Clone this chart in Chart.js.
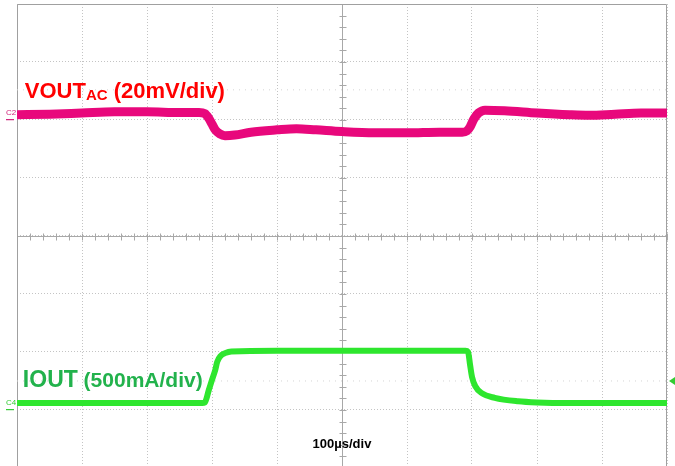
<!DOCTYPE html>
<html>
<head>
<meta charset="utf-8">
<script src="https://cdn.jsdelivr.net/npm/chart.js@4/dist/chart.umd.min.js"></script>
<style>
  html, body { margin: 0; padding: 0; background: #fff; }
  #wrap { position: relative; width: 675px; height: 466px; }
</style>
</head>
<body>
<div id="wrap"><canvas id="c" width="675" height="466"></canvas></div>
<script>
// Time axis: microseconds (100 µs/div, 10 divisions)
const xTicks = [0, 100, 200, 300, 400, 500, 600, 700, 800, 900, 1000];
// Vertical axis: screen divisions (centre = 0)
const yTicks = [-3, -2, -1, 0, 1, 2, 3, 4];

// VOUT (AC, 20 mV/div) – trace position in divisions
const voutTime = [0, 50, 100, 150, 200, 250, 280, 289, 295, 300, 305, 312, 320, 335, 360, 400, 430, 460, 500, 550, 600, 650, 685, 692, 697, 703, 710, 720, 750, 800, 850, 880, 920, 960, 1000];
const voutDiv  = [2.09, 2.10, 2.12, 2.14, 2.14, 2.13, 2.13, 2.11, 2.03, 1.93, 1.83, 1.76, 1.73, 1.74, 1.79, 1.83, 1.85, 1.83, 1.80, 1.78, 1.78, 1.79, 1.79, 1.81, 1.88, 2.02, 2.12, 2.17, 2.16, 2.12, 2.09, 2.08, 2.10, 2.12, 2.12];

// IOUT (500 mA/div) – trace position in divisions
const ioutTime = [0, 100, 200, 285, 289, 295, 300, 305, 308, 313, 320, 330, 400, 500, 600, 690, 694, 697, 700, 705, 715, 735, 771, 800, 850, 900, 1000];
const ioutDiv  = [-2.88, -2.88, -2.88, -2.88, -2.87, -2.66, -2.48, -2.31, -2.17, -2.07, -2.02, -1.99, -1.98, -1.98, -1.98, -1.98, -2.00, -2.22, -2.43, -2.59, -2.71, -2.79, -2.85, -2.87, -2.88, -2.88, -2.88];

// faint dotted reference rows
const refLevels = [2.52, -2.5];

const toPts = (xs, ys) => xs.map((x, i) => ({ x: x, y: ys[i] }));

const FONT = '"Liberation Sans", Arial, "DejaVu Sans", sans-serif';

const scopePlugin = {
  id: 'scope',
  beforeDatasetsDraw(chart) {
    const { ctx, chartArea: a, scales: { x, y } } = chart;
    ctx.save();
    // centre crosshair
    ctx.strokeStyle = '#a8a8a8';
    ctx.lineWidth = 1;
    const cx = Math.round(x.getPixelForValue(500)) + 0.5;
    const cy = Math.round(y.getPixelForValue(0)) + 0.5;
    ctx.beginPath();
    ctx.moveTo(a.left, cy); ctx.lineTo(a.right, cy);
    ctx.moveTo(cx, a.top); ctx.lineTo(cx, a.bottom);
    ctx.stroke();
    // minor ticks every 0.2 div
    ctx.beginPath();
    for (let t = 0; t <= 1000; t += 20) {
      const px = Math.round(x.getPixelForValue(t)) + 0.5;
      ctx.moveTo(px, cy - 3); ctx.lineTo(px, cy + 4);
    }
    for (let v = -4; v <= 4.001; v += 0.2) {
      const py = Math.round(y.getPixelForValue(v)) + 0.5;
      ctx.moveTo(cx - 3, py); ctx.lineTo(cx + 4, py);
    }
    ctx.stroke();
    // frame
    ctx.strokeStyle = '#a0a0a0';
    ctx.beginPath();
    ctx.moveTo(a.left + 0.5, a.bottom); ctx.lineTo(a.left + 0.5, a.top + 0.5);
    ctx.lineTo(a.right - 0.5, a.top + 0.5); ctx.lineTo(a.right - 0.5, a.bottom);
    ctx.stroke();
    ctx.restore();
  },
  afterDatasetsDraw(chart) {
    const { ctx, chartArea: a, scales: { x, y } } = chart;
    ctx.save();
    ctx.textBaseline = 'alphabetic';
    ctx.textAlign = 'left';
    // VOUT label
    let lx = x.getPixelForValue(12), ly = y.getPixelForValue(2.38);
    ctx.fillStyle = '#ff0000';
    ctx.font = 'bold 22px ' + FONT;
    ctx.fillText('VOUT', lx, ly);
    lx += ctx.measureText('VOUT').width;
    ctx.font = 'bold 15px ' + FONT;
    ctx.fillText('AC', lx, ly + 2);
    lx += ctx.measureText('AC').width;
    ctx.font = 'bold 22px ' + FONT;
    ctx.fillText(' (20mV/div)', lx, ly);
    // IOUT label
    ctx.fillStyle = '#22b24c';
    ctx.font = 'bold 23px ' + FONT;
    let ix = x.getPixelForValue(9), iy = y.getPixelForValue(-2.6);
    ctx.fillText('IOUT', ix, iy);
    ix += ctx.measureText('IOUT').width;
    ctx.font = 'bold 21px ' + FONT;
    ctx.fillText(' (500mA/div)', ix, iy);
    // time base
    ctx.fillStyle = '#000';
    ctx.font = 'bold 13px ' + FONT;
    ctx.textAlign = 'center';
    ctx.fillText('100µs/div', x.getPixelForValue(500), y.getPixelForValue(-3.66));
    // channel markers
    ctx.textAlign = 'left';
    ctx.font = '8px ' + FONT;
    ctx.fillStyle = '#d0207a';
    let my = y.getPixelForValue(2.12);
    ctx.fillText('C2', a.left - 11, my + 2);
    ctx.fillRect(a.left - 11, my + 6, 8, 1.2);
    ctx.fillStyle = '#33cc33';
    my = y.getPixelForValue(-2.88);
    ctx.fillText('C4', a.left - 11, my + 2);
    ctx.fillRect(a.left - 11, my + 6, 8, 1.2);
    // trigger arrow on the right
    const ty = y.getPixelForValue(-2.5);
    ctx.fillStyle = '#33cc33';
    ctx.beginPath();
    ctx.moveTo(a.right + 2, ty);
    ctx.lineTo(a.right + 8, ty - 4);
    ctx.lineTo(a.right + 8, ty + 4);
    ctx.closePath();
    ctx.fill();
    ctx.restore();
  }
};

new Chart(document.getElementById('c'), {
  type: 'line',
  data: {
    datasets: [
      ...refLevels.map(v => ({
        data: [{ x: 0, y: v }, { x: 1000, y: v }],
        borderColor: '#d4d4d4', borderWidth: 1, borderDash: [1, 5],
        pointRadius: 0, order: 3
      })),
      {
        label: 'IOUT',
        data: toPts(ioutTime, ioutDiv),
        borderColor: '#2ee62e', borderWidth: 6,
        pointRadius: 0, tension: 0.3, cubicInterpolationMode: 'monotone', order: 2
      },
      {
        label: 'VOUT',
        data: toPts(voutTime, voutDiv),
        borderColor: '#e8087c', borderWidth: 9,
        pointRadius: 0, tension: 0.3, cubicInterpolationMode: 'monotone', order: 1
      }
    ]
  },
  options: {
    responsive: false,
    animation: false,
    devicePixelRatio: 1,
    layout: { padding: { left: 17, right: 8, top: 4, bottom: 0 } },
    plugins: { legend: { display: false }, tooltip: { enabled: false } },
    scales: {
      x: {
        type: 'linear', min: 0, max: 1000,
        afterBuildTicks: s => { s.ticks = xTicks.map(v => ({ value: v })); },
        ticks: { display: false },
        grid: { color: '#c4c4c4', lineWidth: 1, drawTicks: false },
        border: { display: false, dash: [1, 2] }
      },
      y: {
        type: 'linear', min: -3.966, max: 4,
        afterBuildTicks: s => { s.ticks = yTicks.map(v => ({ value: v })); },
        ticks: { display: false },
        grid: { color: '#c4c4c4', lineWidth: 1, drawTicks: false },
        border: { display: false, dash: [1, 2] }
      }
    }
  },
  plugins: [scopePlugin]
});
</script>
</body>
</html>
